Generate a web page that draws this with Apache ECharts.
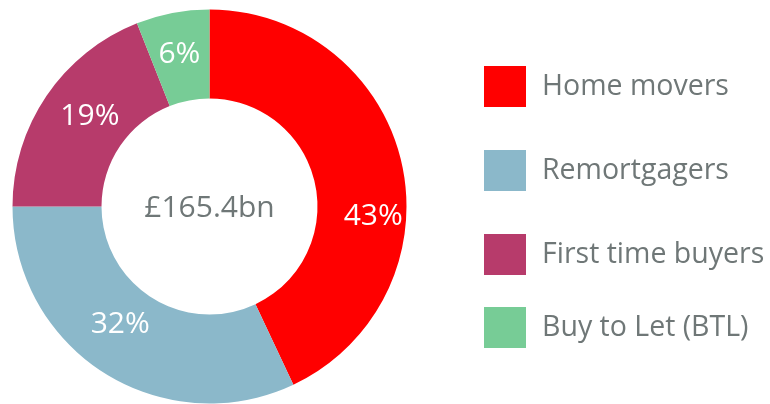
<!DOCTYPE html>
<html>
<head>
<meta charset="utf-8">
<script src="https://cdn.jsdelivr.net/npm/echarts@6/dist/echarts.min.js"></script>
<style>
  html, body { margin: 0; padding: 0; background: #fff; }
  #chart { width: 770px; height: 404px; }
</style>
</head>
<body>
<div id="chart"></div>
<script>
// data
const categories = ["Home movers", "Remortgagers", "First time buyers", "Buy to Let (BTL)"];
const shares = [43, 32, 19, 6];
const totalLabel = "£165.4bn";

const colors = ["#ff0000", "#8bb8ca", "#b73b6b", "#77cc96"];
// nudge the percentage labels to where the reference puts them
const labelNudge = [[12, 44], [-6, -13], [9, -3], [-1, 1]];
const legendTops = [61, 145, 229, 302];

const chart = echarts.init(document.getElementById("chart"));
const font = "'Open Sans', sans-serif";

const option = {
  animation: false,
  color: colors,
  legend: categories.map(function (name, i) {
    return {
      data: [name],
      orient: "vertical",
      left: 479,
      top: legendTops[i],
      icon: "rect",
      itemWidth: 42,
      itemHeight: 41,
      selectedMode: false,
      textStyle: {
        color: "#6f7777",
        fontSize: 28.5,
        fontFamily: font,
        padding: [0, 0, 0, 11]
      }
    };
  }),
  graphic: [{
    type: "text",
    style: {
      text: totalLabel,
      x: 209.5,
      y: 208,
      align: "center",
      verticalAlign: "middle",
      fill: "#6f7777",
      font: "30px " + font
    }
  }],
  series: [{
    type: "pie",
    center: [209.5, 206.5],
    radius: [108, 197],
    startAngle: 90,
    clockwise: true,
    avoidLabelOverlap: false,
    label: {
      show: true,
      position: "inside",
      formatter: "{c}%",
      color: "#fff",
      fontSize: 30,
      fontFamily: font
    },
    labelLine: { show: false },
    emphasis: { disabled: true },
    data: categories.map(function (name, i) {
      return {
        name: name,
        value: shares[i],
        label: { offset: labelNudge[i] }
      };
    })
  }]
};
chart.setOption(option);
</script>
</body>
</html>
